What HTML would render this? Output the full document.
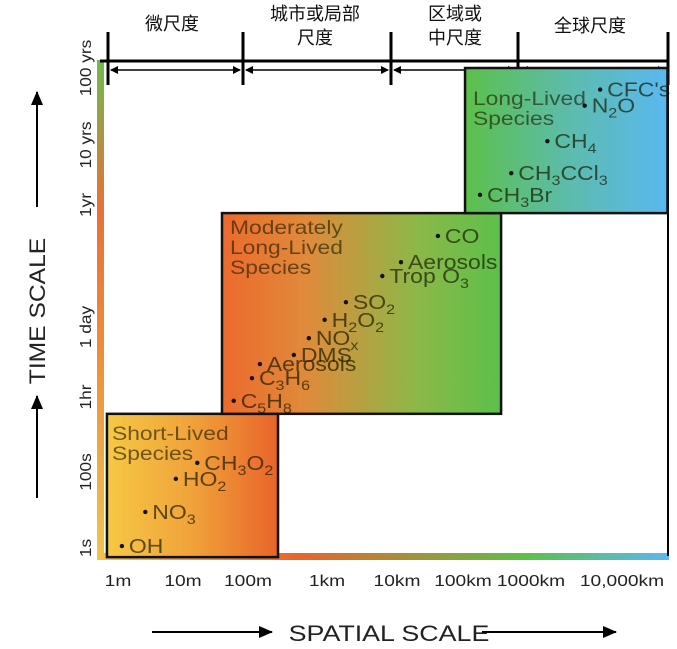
<!DOCTYPE html>
<html><head><meta charset="utf-8"><style>
html,body{margin:0;padding:0;background:#fff;}
svg{display:block;font-family:"Liberation Sans","Noto Sans CJK SC",sans-serif;}
</style></head><body>
<svg id="chart" width="677" height="649" viewBox="0 0 677 649" xmlns="http://www.w3.org/2000/svg">
<defs>
<linearGradient id="gLeft" x1="0" y1="1" x2="0" y2="0"><stop offset="0" stop-color="#f2c44a"/><stop offset="0.45" stop-color="#eb8a3a"/><stop offset="0.7" stop-color="#e8703a"/><stop offset="1" stop-color="#6cbc4c"/></linearGradient>
<linearGradient id="gBottom" x1="0" y1="0" x2="1" y2="0"><stop offset="0" stop-color="#f2c44a"/><stop offset="0.35" stop-color="#e8642a"/><stop offset="0.75" stop-color="#5cc04a"/><stop offset="1" stop-color="#5ab8f0"/></linearGradient>
<linearGradient id="gShort" x1="0" y1="0" x2="1" y2="0"><stop offset="0" stop-color="#f6c844"/><stop offset="0.5" stop-color="#f0a23a"/><stop offset="1" stop-color="#e8642a"/></linearGradient>
<linearGradient id="gMod" x1="0" y1="0" x2="1" y2="0"><stop offset="0" stop-color="#ec6a2c"/><stop offset="0.3" stop-color="#e08a3a"/><stop offset="0.7" stop-color="#8cb848"/><stop offset="1" stop-color="#5cc04a"/></linearGradient>
<linearGradient id="gLong" x1="0" y1="0" x2="1" y2="0"><stop offset="0" stop-color="#5cc04a"/><stop offset="0.5" stop-color="#5cbcaa"/><stop offset="1" stop-color="#5ab8f0"/></linearGradient>
<marker id="ah" markerWidth="8" markerHeight="8" refX="7" refY="4" orient="auto-start-reverse" markerUnits="userSpaceOnUse"><path d="M0,0 L8,4 L0,8 Z" fill="#000"/></marker>
<marker id="ah2" markerWidth="14" markerHeight="12" refX="13" refY="6" orient="auto" markerUnits="userSpaceOnUse"><path d="M0,0 L14,6 L0,12 Z" fill="#000"/></marker>
</defs>
<g id="static"></g>
<g id="marks"></g>
</svg>
<script>
// Data
const xTickLabels = ["1m","10m","100m","1km","10km","100km","1000km","10,000km"];
const xTickValues = [0,1,2,3,4,5,6,7];
const yTickLabels = ["1s","100s","1hr","1 day","1yr","10 yrs","100 yrs"];
const yTickValues = [0,2,3.56,4.94,7.5,8.5,9.5];
const speciesNames = ["OH","NO<sub>3</sub>","HO<sub>2</sub>","CH<sub>3</sub>O<sub>2</sub>","C<sub>5</sub>H<sub>8</sub>","C<sub>3</sub>H<sub>6</sub>","Aerosols","DMS","NO<sub>x</sub>","H<sub>2</sub>O<sub>2</sub>","SO<sub>2</sub>","Trop O<sub>3</sub>","Aerosols","CO","CH<sub>3</sub>Br","CH<sub>3</sub>CCl<sub>3</sub>","CH<sub>4</sub>","N<sub>2</sub>O","CFC's"];
const speciesLogSpace = [0.06,0.42,0.89,1.22,1.78,2.05,2.15,2.58,2.77,2.97,3.27,3.79,4.06,4.62,5.25,5.71,6.18,6.59,6.76];
const speciesLogTime = [0.05,0.95,1.82,2.19,3.48,3.93,4.21,4.39,4.72,5.09,5.46,6.01,6.30,6.85,7.67,8.03,8.55,9.01,9.22];
const boxNames = ["short-lived-box","moderately-long-lived-box","long-lived-box"];
const boxX0 = [-0.17,1.6,5.03];
const boxX1 = [2.38,5.56,7.5];
const boxT0 = [-0.24,3.21,7.33];
const boxT1 = [3.21,7.33,9.5];

// axis functions (piecewise log anchors from tick layout)
const xPx=[118,183,248,327,397,463,531,622];
const yPx=[548,472,397,327,205,145,68];
function interp(v,vals,px){
  if(v<=vals[0]){return px[0]+(v-vals[0])*(px[1]-px[0])/(vals[1]-vals[0]);}
  for(let i=0;i<vals.length-1;i++){ if(v<=vals[i+1]) return px[i]+(v-vals[i])*(px[i+1]-px[i])/(vals[i+1]-vals[i]); }
  const n=vals.length-1; return px[n]+(v-vals[n])*(px[n]-px[n-1])/(vals[n]-vals[n-1]);
}
const sx=v=>interp(v,xTickValues,xPx);
const sy=v=>interp(v,yTickValues,yPx);
const NS="http://www.w3.org/2000/svg";
function mk(tag,attrs,parent){const e=document.createElementNS(NS,tag);for(const k in attrs)e.setAttribute(k,attrs[k]);parent.appendChild(e);return e;}
const st=document.getElementById('static'), mg=document.getElementById('marks');

let e;
e=mk('rect',{x:97,y:60,width:7,height:500,fill:'url(#gLeft)'},st);


e=mk('rect',{x:97,y:553,width:572,height:7,fill:'url(#gBottom)'},st);


e=mk('line',{x1:668,y1:60,x2:668,y2:556,stroke:'#000','stroke-width':2},st);



// boxes
for(let i=0;i<boxNames.length;i++){
  const x0=sx(boxX0[i]),x1=sx(boxX1[i]),y0=sy(boxT1[i]),y1=sy(boxT0[i]);
  const fills=['url(#gShort)','url(#gMod)','url(#gLong)'];
  e=mk('rect',{x:x0,y:y0,width:x1-x0,height:y1-y0,fill:fills[i],stroke:'#111','stroke-width':2.5},mg);
  
  
}
// box titles
const titles=[[["Short-Lived","Species"],112,440],[["Moderately","Long-Lived","Species"],230,234],[["Long-Lived","Species"],473,105]];
const titleNames=['short-lived-title','moderately-long-lived-title','long-lived-title'];
titles.forEach((t,i)=>{
  t[0].forEach((l,j)=>{
    const g=mk('text',{x:0,y:0,'font-size':19.5,fill:'#1a1a00','fill-opacity':0.62,transform:`translate(${t[1]},${t[2]+j*20}) scale(1.17,1)`},mg);
    
    
    g.textContent=l;
  });
});

// species
for(let i=0;i<speciesNames.length;i++){
  const x=sx(speciesLogSpace[i]),y=sy(speciesLogTime[i]);
  e=mk('circle',{cx:x,cy:y,r:2.2,fill:'#111'},mg);
  
  
  const t=mk('text',{x:0,y:0,'font-size':20,fill:'#1a1a00','fill-opacity':0.7,transform:`translate(${x+7},${y+7}) scale(1.15,1)`},mg);
  
  
  speciesNames[i].split(/(<sub>.*?<\/sub>)/).forEach(p=>{
    if(!p)return;
    if(p.startsWith('<sub>')){const s=mk('tspan',{'font-size':14,dy:5},t);s.textContent=p.slice(5,-6);const r=mk('tspan',{dy:-5},t);r.textContent='\u200b';}
    else{const s=mk('tspan',{},t);s.textContent=p;}
  });
}

// x tick labels
xTickLabels.forEach((l,i)=>{
  e=mk('text',{x:0,y:0,'font-size':16,'text-anchor':'middle',fill:'#222',transform:`translate(${sx(xTickValues[i])},586) scale(1.2,1)`},st);
  e.textContent=l;
  
  
});
// y tick labels
yTickLabels.forEach((l,i)=>{
  const y=sy(yTickValues[i]);
  e=mk('text',{x:0,y:0,'font-size':16,'text-anchor':'middle',fill:'#222',transform:`translate(91,${y}) rotate(-90) scale(1.08,1)`},st);
  e.textContent=l;
  
  
});

// axis titles & arrows
e=mk('text',{x:0,y:0,'font-size':22,'text-anchor':'middle',fill:'#222',transform:'translate(45,311) rotate(-90) scale(1.12,1)'},st);
e.textContent='TIME SCALE';


[[207,92],[498,396]].forEach(a=>{
  e=mk('line',{x1:37,y1:a[0],x2:37,y2:a[1],stroke:'#000','stroke-width':2,'marker-end':'url(#ah2)'},st);
  
  
});
e=mk('text',{x:0,y:0,'font-size':22,'text-anchor':'middle',fill:'#222',transform:'translate(389,641) scale(1.22,1)'},st);
e.textContent='SPATIAL SCALE';


[[152,272],[482,616]].forEach(a=>{
  e=mk('line',{x1:a[0],y1:632,x2:a[1],y2:632,stroke:'#000','stroke-width':2,'marker-end':'url(#ah2)'},st);
  
  
});

// top brackets
e=mk('line',{x1:100,y1:61,x2:668,y2:61,stroke:'#000','stroke-width':3},st);


const bx=[108,243,391,518,668];
bx.forEach(x=>{
  e=mk('line',{x1:x,y1:32,x2:x,y2:85,stroke:'#000','stroke-width':3},st);
  
  
});
for(let i=0;i<bx.length-1;i++){
  e=mk('line',{x1:bx[i]+3,y1:70,x2:bx[i+1]-3,y2:70,stroke:'#000','stroke-width':1.5,'marker-start':'url(#ah)','marker-end':'url(#ah)'},st);
  
  
}
const cn=[[["微尺度"],172,30],[["城市或局部","尺度"],315,20],[["区域或","中尺度"],455,20],[["全球尺度"],590,32]];
const cnNames=['micro-scale-label','urban-local-scale-label','regional-meso-scale-label','global-scale-label'];
cn.forEach((c,i)=>{
  const t=mk('text',{x:c[1],y:c[2],'font-size':18,'text-anchor':'middle',fill:'#111'},st);
  
  
  c[0].forEach((l,j)=>{const s=mk('tspan',{x:c[1],dy:j?24:0},t);s.textContent=l;});
});
</script>
</body></html>
